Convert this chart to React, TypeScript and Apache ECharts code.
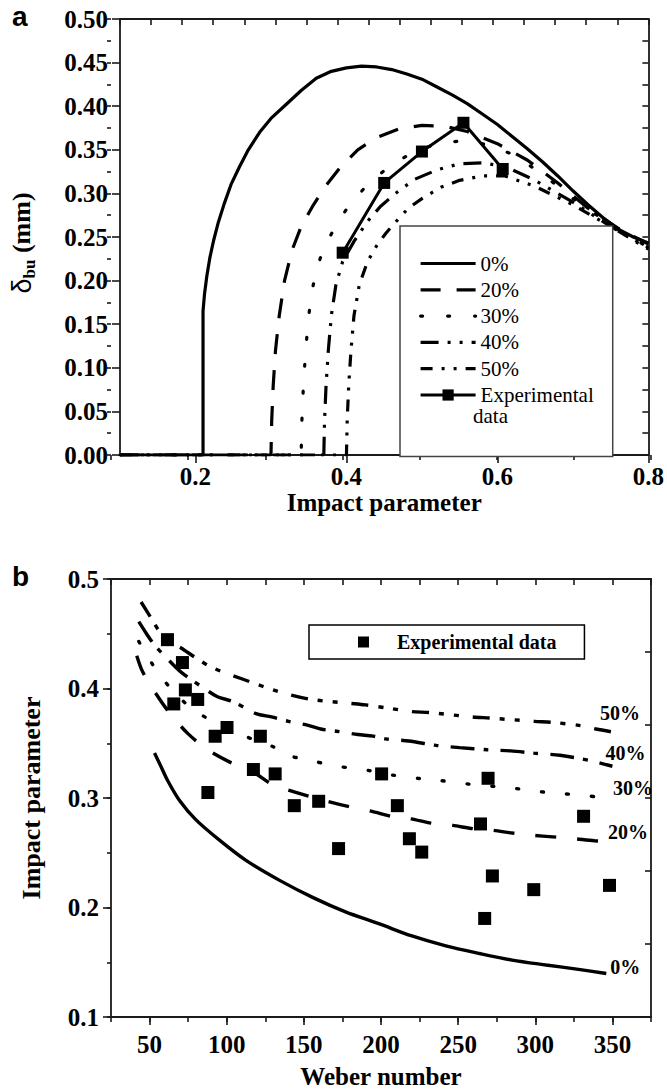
import React, { useEffect, useRef } from 'react';
import * as echarts from 'echarts';

// ---------------- Panel a : delta_bu vs impact parameter ----------------
const aXLabelValues = [0.2, 0.4, 0.6, 0.8];
const aCurveNames = ['0%', '20%', '30%', '40%', '50%'];

const aCurve0 = [
  [0.1, 0], [0.21, 0], [0.21, 0.165], [0.212, 0.185], [0.215, 0.205], [0.219, 0.226], [0.224, 0.246],
  [0.23, 0.266], [0.238, 0.288], [0.247, 0.31], [0.258, 0.33], [0.27, 0.35], [0.285, 0.37], [0.3, 0.386],
  [0.32, 0.402], [0.34, 0.418], [0.36, 0.432], [0.38, 0.44], [0.4, 0.444], [0.42, 0.446], [0.44, 0.445],
  [0.46, 0.442], [0.48, 0.437], [0.5, 0.431], [0.52, 0.422], [0.54, 0.413], [0.56, 0.403], [0.58, 0.391],
  [0.6, 0.379], [0.62, 0.365], [0.64, 0.351], [0.66, 0.336], [0.68, 0.32], [0.7, 0.303], [0.72, 0.287],
  [0.74, 0.272], [0.76, 0.259], [0.78, 0.25], [0.8, 0.243],
];
const aCurve20 = [
  [0.1, 0], [0.3, 0], [0.301, 0.04], [0.303, 0.08], [0.306, 0.12], [0.311, 0.16], [0.318, 0.2],
  [0.328, 0.235], [0.34, 0.262], [0.355, 0.285], [0.372, 0.308], [0.392, 0.33], [0.415, 0.35],
  [0.44, 0.364], [0.47, 0.374], [0.5, 0.378], [0.53, 0.377], [0.56, 0.371], [0.6, 0.357],
  [0.64, 0.338], [0.68, 0.312], [0.72, 0.283], [0.76, 0.26], [0.8, 0.242],
];
const aCurve30 = [
  [0.1, 0], [0.34, 0], [0.341, 0.04], [0.343, 0.08], [0.346, 0.12], [0.35, 0.16], [0.356, 0.195],
  [0.365, 0.225], [0.375, 0.245], [0.385, 0.262], [0.404, 0.287], [0.43, 0.312], [0.46, 0.333],
  [0.49, 0.348], [0.52, 0.357], [0.55, 0.36], [0.58, 0.357], [0.62, 0.345], [0.66, 0.322],
  [0.7, 0.294], [0.75, 0.264], [0.8, 0.238],
];
const aCurve40 = [
  [0.1, 0], [0.37, 0], [0.371, 0.04], [0.373, 0.08], [0.376, 0.12], [0.38, 0.16], [0.386, 0.195],
  [0.395, 0.222], [0.41, 0.245], [0.428, 0.268], [0.445, 0.285], [0.465, 0.3], [0.49, 0.316],
  [0.52, 0.327], [0.55, 0.334], [0.58, 0.335], [0.61, 0.331], [0.65, 0.315], [0.7, 0.29],
  [0.75, 0.262], [0.8, 0.238],
];
const aCurve50 = [
  [0.1, 0], [0.4, 0], [0.401, 0.04], [0.403, 0.08], [0.406, 0.12], [0.41, 0.16], [0.417, 0.195],
  [0.428, 0.222], [0.44, 0.24], [0.452, 0.254], [0.465, 0.267], [0.482, 0.283], [0.5, 0.294],
  [0.525, 0.307], [0.55, 0.315], [0.58, 0.32], [0.61, 0.32], [0.65, 0.308], [0.7, 0.287],
  [0.75, 0.262], [0.8, 0.236],
];
const aExperimental = [[0.395, 0.232], [0.45, 0.312], [0.5, 0.348], [0.555, 0.381], [0.607, 0.328]];

// ---------------- Panel b : impact parameter vs Weber number ----------------
const bXLabelValues = [50, 100, 150, 200, 250, 300, 350];
const bCurveNames = ['0%', '20%', '30%', '40%', '50%'];

const bCurve0 = [
  [53.2, 0.341], [57, 0.33], [61.7, 0.316], [69.3, 0.298], [80.1, 0.28], [95.3, 0.2615], [112.5, 0.243],
  [134, 0.225], [156, 0.209], [177, 0.196], [199, 0.185], [220, 0.174], [242, 0.165], [264, 0.158],
  [285, 0.152], [307, 0.1475], [328, 0.1435], [346, 0.1397],
];
const bCurve20 = [
  [41.7, 0.43], [45.6, 0.415], [53.8, 0.396], [62.8, 0.378], [74.7, 0.359], [87.7, 0.344], [101.7, 0.333],
  [116.8, 0.324], [128.8, 0.313], [140.6, 0.307], [160, 0.299], [179.5, 0.292], [193.6, 0.288],
  [207.6, 0.283], [219.5, 0.281], [232.5, 0.277], [246.5, 0.275], [259.4, 0.272], [272.4, 0.2705],
  [285.3, 0.268], [298.3, 0.266], [311.3, 0.2645], [324.3, 0.263], [338.4, 0.261], [350.3, 0.26],
];
const bCurve30 = [
  [43, 0.443], [53.8, 0.418], [65, 0.398], [78, 0.381], [95, 0.367], [112.5, 0.356], [129.8, 0.347],
  [140, 0.339], [155, 0.334], [172, 0.329], [192.5, 0.325], [207, 0.321], [223.8, 0.318], [237.8, 0.316],
  [255, 0.313], [270, 0.311], [285.3, 0.309], [301.5, 0.306], [317.7, 0.304], [332.9, 0.302], [349, 0.3],
];
const bCurve40 = [
  [43, 0.461], [48, 0.45], [53, 0.44], [61, 0.428], [70.4, 0.415], [85.5, 0.4], [94, 0.3925], [104, 0.388],
  [119, 0.377], [129, 0.374], [140, 0.37], [151, 0.367], [161, 0.363], [171, 0.361], [185, 0.358],
  [195, 0.3565], [203, 0.354], [218, 0.352], [236, 0.348], [251, 0.346], [269, 0.344], [284, 0.343],
  [299, 0.341], [316, 0.339], [336, 0.334], [350, 0.329],
];
const bCurve50 = [
  [44.5, 0.479], [51.6, 0.463], [59.6, 0.446], [70.4, 0.437], [80, 0.428], [90.7, 0.419], [111.5, 0.408],
  [134, 0.397], [155, 0.39], [179.5, 0.3865], [190, 0.385], [205, 0.382], [219.5, 0.379], [231.4, 0.378],
  [259.4, 0.374], [270.2, 0.373], [299.4, 0.37], [311.3, 0.369], [330, 0.366], [339.4, 0.363], [351, 0.36],
];
const bExperimental = [
  [61.6, 0.4446], [71.3, 0.4237], [65.7, 0.3859], [73.2, 0.3987], [81.2, 0.39], [87.8, 0.305],
  [92.5, 0.3564], [100.2, 0.3644], [121.8, 0.3564], [117.3, 0.326], [131.4, 0.322], [143.8, 0.293],
  [159.6, 0.297], [172.5, 0.2538], [200.4, 0.322], [210.6, 0.293], [218.4, 0.2628], [226.4, 0.2506],
  [264.5, 0.2763], [269.4, 0.318], [267.2, 0.19], [272.2, 0.2288], [299, 0.2163], [331.3, 0.2833],
  [348.1, 0.2202],
];

// ---------------- styling ----------------
const SERIF = 'Liberation Serif';
const SANS = 'Liberation Sans';
const INK = '#000';
const AXIS = '#1a1a1a';

function buildOption() {
  const lineAxis = { show: true, onZero: false, lineStyle: { color: AXIS, width: 1.8 } };
  const tickLine = { color: AXIS, width: 1.6 };
  const tickLabel = { fontFamily: SERIF, fontWeight: 'bold', fontSize: 25, color: INK };
  const titleText = { fontFamily: SERIF, fontWeight: 'bold', fontSize: 25, color: INK };
  const noAxisLine = { show: false, onZero: false };

  const grids = [
    { left: 111, top: 19, width: 540, height: 436 },
    { left: 111, top: 19, width: 540, height: 436 },
    { left: 111, top: 579, width: 540, height: 438 },
    { left: 111, top: 579, width: 540, height: 438 },
  ];

  const xAxis: any[] = [
    {
      gridIndex: 0, type: 'value', position: 'bottom', min: 0.1, max: 0.8,
      axisLine: lineAxis,
      axisTick: { show: true, customValues: aXLabelValues, length: 8, lineStyle: tickLine },
      axisLabel: { customValues: aXLabelValues, formatter: (v: number) => v.toFixed(1), margin: 9, ...tickLabel },
      splitLine: { show: false },
      name: 'Impact parameter', nameLocation: 'middle', nameGap: 34, nameTextStyle: titleText,
    },
    {
      gridIndex: 0, type: 'value', position: 'top', min: 0, max: 17, interval: 1,
      axisLine: lineAxis,
      axisTick: { show: true, inside: true, length: 6, lineStyle: tickLine },
      axisLabel: { show: false }, splitLine: { show: false },
    },
    {
      gridIndex: 1, type: 'value', position: 'bottom', min: 0.1, max: 0.8, interval: 0.1,
      axisLine: noAxisLine,
      axisTick: { show: true, length: 5, lineStyle: tickLine },
      axisLabel: { show: false }, splitLine: { show: false },
    },
    {
      gridIndex: 2, type: 'value', position: 'bottom', min: 25, max: 375,
      axisLine: lineAxis,
      axisTick: { show: true, customValues: bXLabelValues, length: 8, lineStyle: tickLine },
      axisLabel: { customValues: bXLabelValues, margin: 15, ...tickLabel },
      splitLine: { show: false },
      name: 'Weber number', nameLocation: 'middle', nameGap: 47, nameTextStyle: titleText,
    },
    {
      gridIndex: 2, type: 'value', position: 'top', min: 25, max: 375, interval: 25,
      axisLine: lineAxis,
      axisTick: { show: true, inside: true, length: 6, lineStyle: tickLine },
      axisLabel: { show: false }, splitLine: { show: false },
    },
    {
      gridIndex: 3, type: 'value', position: 'bottom', min: 25, max: 375, interval: 25,
      axisLine: noAxisLine,
      axisTick: { show: true, length: 5, lineStyle: tickLine },
      axisLabel: { show: false }, splitLine: { show: false },
    },
  ];

  const yAxis: any[] = [
    {
      gridIndex: 0, type: 'value', position: 'left', min: 0, max: 0.5, interval: 0.05,
      axisLine: lineAxis,
      axisTick: { show: true, length: 8, lineStyle: tickLine },
      axisLabel: { formatter: (v: number) => v.toFixed(2), margin: 12, ...tickLabel },
      splitLine: { show: false },
      name: '{d|δ}{s|bu}{m| (mm)}', nameLocation: 'middle', nameRotate: 90, nameGap: 82,
      nameTextStyle: {
        padding: [0, 0, 0, -12],
        rich: {
          d: { fontFamily: SANS, fontSize: 27, color: INK },
          s: { fontFamily: SERIF, fontWeight: 'bold', fontSize: 17, color: INK, padding: [16, 0, 0, 0] },
          m: { fontFamily: SERIF, fontWeight: 'bold', fontSize: 26, color: INK },
        },
      },
    },
    {
      gridIndex: 0, type: 'value', position: 'right', min: 0, max: 0.5, interval: 0.025,
      axisLine: lineAxis,
      axisTick: { show: true, inside: true, length: 6, lineStyle: tickLine },
      axisLabel: { show: false }, splitLine: { show: false },
    },
    {
      gridIndex: 1, type: 'value', position: 'left', min: 0, max: 0.5, interval: 0.025,
      axisLine: noAxisLine,
      axisTick: { show: true, length: 4, lineStyle: tickLine },
      axisLabel: { show: false }, splitLine: { show: false },
    },
    {
      gridIndex: 2, type: 'value', position: 'left', min: 0.1, max: 0.5, interval: 0.1,
      axisLine: lineAxis,
      axisTick: { show: true, length: 8, lineStyle: tickLine },
      axisLabel: { formatter: (v: number) => v.toFixed(1), margin: 12, ...tickLabel },
      splitLine: { show: false },
      name: 'Impact parameter', nameLocation: 'middle', nameRotate: 90, nameGap: 67,
      nameTextStyle: { ...titleText, fontSize: 26 },
    },
    {
      gridIndex: 2, type: 'value', position: 'right', min: 0, max: 6, interval: 1,
      axisLine: lineAxis,
      axisTick: { show: true, inside: true, length: 6, lineStyle: tickLine },
      axisLabel: { show: false }, splitLine: { show: false },
    },
    {
      gridIndex: 3, type: 'value', position: 'left', min: 0.1, max: 0.5, interval: 0.05,
      axisLine: noAxisLine,
      axisTick: { show: true, length: 4, lineStyle: tickLine },
      axisLabel: { show: false }, splitLine: { show: false },
    },
  ];

  const aData = [aCurve0, aCurve20, aCurve30, aCurve40, aCurve50];
  const aDash: any[] = ['solid', [20, 16], [2, 25], [18, 9, 3, 9, 3, 9], [12, 9, 3, 9, 3, 9]];
  const aCap = ['butt', 'butt', 'round', 'butt', 'butt'];

  const bData = [bCurve0, bCurve20, bCurve30, bCurve40, bCurve50];
  const bDash: any[] = ['solid', [21, 21], [2, 23], [24, 9, 5, 12], [17, 10, 5, 10, 5, 14]];
  const bCap = ['butt', 'butt', 'round', 'butt', 'butt'];
  const bLabelOffset = [[4, -7], [-5, -10], [2, -10], [-7, -13], [-14, -19]];

  const series: any[] = [];
  aData.forEach((d, i) => {
    series.push({
      name: aCurveNames[i], type: 'line', xAxisIndex: 0, yAxisIndex: 0, data: d,
      symbol: 'none', smooth: false, z: 3,
      lineStyle: { color: INK, width: 3.2, type: aDash[i], cap: aCap[i] },
      itemStyle: { color: INK },
    });
  });
  series.push({
    name: 'Experimental data', type: 'line', xAxisIndex: 0, yAxisIndex: 0, data: aExperimental,
    symbol: 'rect', symbolSize: 12, z: 4,
    lineStyle: { color: INK, width: 3 }, itemStyle: { color: INK, opacity: 1 },
  });
  bData.forEach((d, i) => {
    series.push({
      name: bCurveNames[i] + ' (b)', type: 'line', xAxisIndex: 3, yAxisIndex: 3, data: d,
      symbol: 'none', smooth: 0.3, z: 3,
      lineStyle: { color: INK, width: 3.4, type: bDash[i], cap: bCap[i] },
      itemStyle: { color: INK },
      endLabel: {
        show: true, distance: 0, formatter: bCurveNames[i], offset: bLabelOffset[i],
        fontFamily: SERIF, fontWeight: 'bold', fontSize: 20, color: INK,
      },
    });
  });
  series.push({
    name: 'Experimental data (b)', type: 'scatter', xAxisIndex: 3, yAxisIndex: 3, data: bExperimental,
    symbol: 'rect', symbolSize: 13, z: 4, itemStyle: { color: INK, opacity: 1 },
  });

  const legend: any[] = [
    {
      orient: 'vertical', left: 400, top: 226, padding: [27, 19, 51, 19],
      itemWidth: 55, itemHeight: 14, itemGap: 5.3, selectedMode: false,
      borderColor: '#444', borderWidth: 1.5, backgroundColor: '#fff',
      lineStyle: { width: 3.2 },
      data: [
        ...aCurveNames.map((n) => ({ name: n, itemStyle: { opacity: 0 } })),
        { name: 'Experimental data', itemStyle: { opacity: 1 } },
      ],
      formatter: (n: string) => (n === 'Experimental data' ? 'Experimental' : n),
      textStyle: { fontFamily: SERIF, fontSize: 21, lineHeight: 20, color: INK },
    },
    {
      orient: 'horizontal', left: 309, top: 625, padding: [7, 28, 7, 49],
      itemWidth: 11, itemHeight: 11, selectedMode: false,
      borderColor: '#000', borderWidth: 1.5, backgroundColor: '#fff',
      data: [{ name: 'Experimental data (b)', itemStyle: { opacity: 1 } }],
      formatter: () => 'Experimental data',
      textStyle: { fontFamily: SERIF, fontWeight: 'bold', fontSize: 20, lineHeight: 20, color: INK, padding: [0, 0, 0, 23] },
    },
  ];

  const graphic: any[] = [
    { type: 'text', left: 12, top: 2, style: { text: 'a', font: `bold 28px ${SANS}`, fill: INK } },
    { type: 'text', left: 12, top: 562, style: { text: 'b', font: `bold 28px ${SANS}`, fill: INK } },
    { type: 'text', x: 473, y: 416, z: 100, style: { text: 'data', font: `21px ${SERIF}`, fill: INK, verticalAlign: 'middle' } },
  ];

  return {
    animation: false,
    backgroundColor: '#fff',
    grid: grids,
    xAxis,
    yAxis,
    series,
    legend,
    graphic,
  };
}

export default function App() {
  const ref = useRef<HTMLDivElement>(null);
  useEffect(() => {
    if (!ref.current) return;
    const chart = echarts.init(ref.current, null, { renderer: 'svg' });
    chart.setOption(buildOption() as any);
    return () => chart.dispose();
  }, []);
  return (
    <div
      ref={ref}
      style={{ position: 'absolute', left: 0, top: 0, width: 667, height: 1090, background: '#fff' }}
    />
  );
}
